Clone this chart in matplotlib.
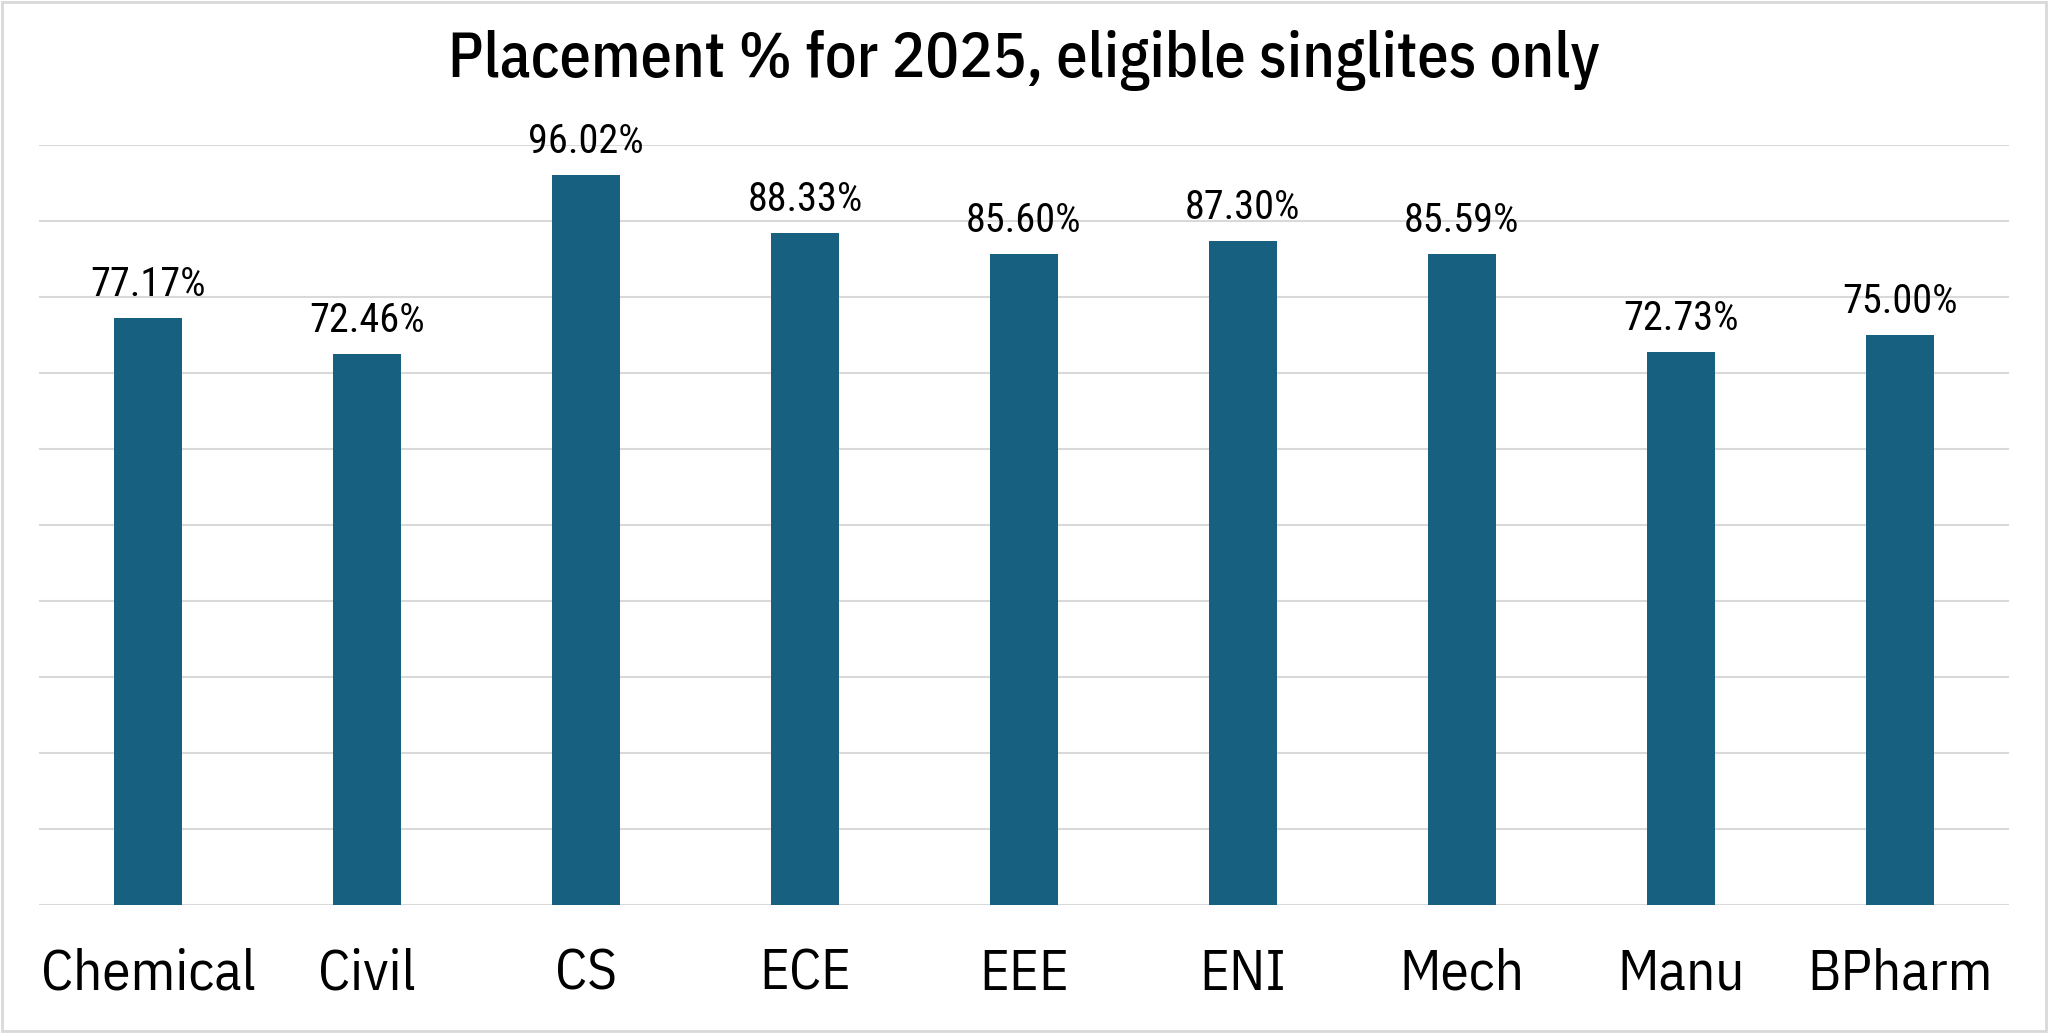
import matplotlib.pyplot as plt
from matplotlib.patches import Rectangle

branches = ["Chemical", "Civil", "CS", "ECE", "EEE", "ENI", "Mech", "Manu", "BPharm"]
placement = [77.17, 72.46, 96.02, 88.33, 85.60, 87.30, 85.59, 72.73, 75.00]

fig = plt.figure(figsize=(20.48, 10.33), dpi=100)
ax = fig.add_axes([0.019, 0.124, 0.962, 0.736])

plex = ["IBM Plex Sans Condensed", "DejaVu Sans"]
lab = ["Roboto Condensed", "Archivo Narrow", "IBM Plex Sans Condensed", "DejaVu Sans"]

x = range(len(branches))
bars = ax.bar(x, placement, width=0.31, color="#17607F", zorder=3)

for b, v in zip(bars, placement):
    ax.annotate("{:.2f}%".format(v), (b.get_x() + b.get_width() / 2, v),
                xytext=(0, 10), textcoords="offset points",
                ha="center", va="bottom", fontsize=29, family=lab)

ax.set_xlim(-0.5, len(branches) - 0.5)
ax.set_ylim(0, 100)
ax.set_yticks(range(0, 101, 10))
ax.yaxis.grid(True, color="#D9D9D9", linewidth=1.5, zorder=0)
ax.tick_params(axis="y", length=0, labelleft=False)
ax.set_xticks(list(x))
ax.set_xticklabels(branches, fontsize=41, family=plex)
ax.tick_params(axis="x", length=0, pad=31)
for s in ax.spines.values():
    s.set_visible(False)

fig.text(0.5, 0.941, "Placement % for 2025, eligible singlites only",
         ha="center", va="center", fontsize=45, family=plex, weight=500)

fig.patches.append(Rectangle((0.001, 0.002), 0.998, 0.996, transform=fig.transFigure,
                             fill=False, edgecolor="#D9D9D9", linewidth=2))

plt.savefig("out.png")
